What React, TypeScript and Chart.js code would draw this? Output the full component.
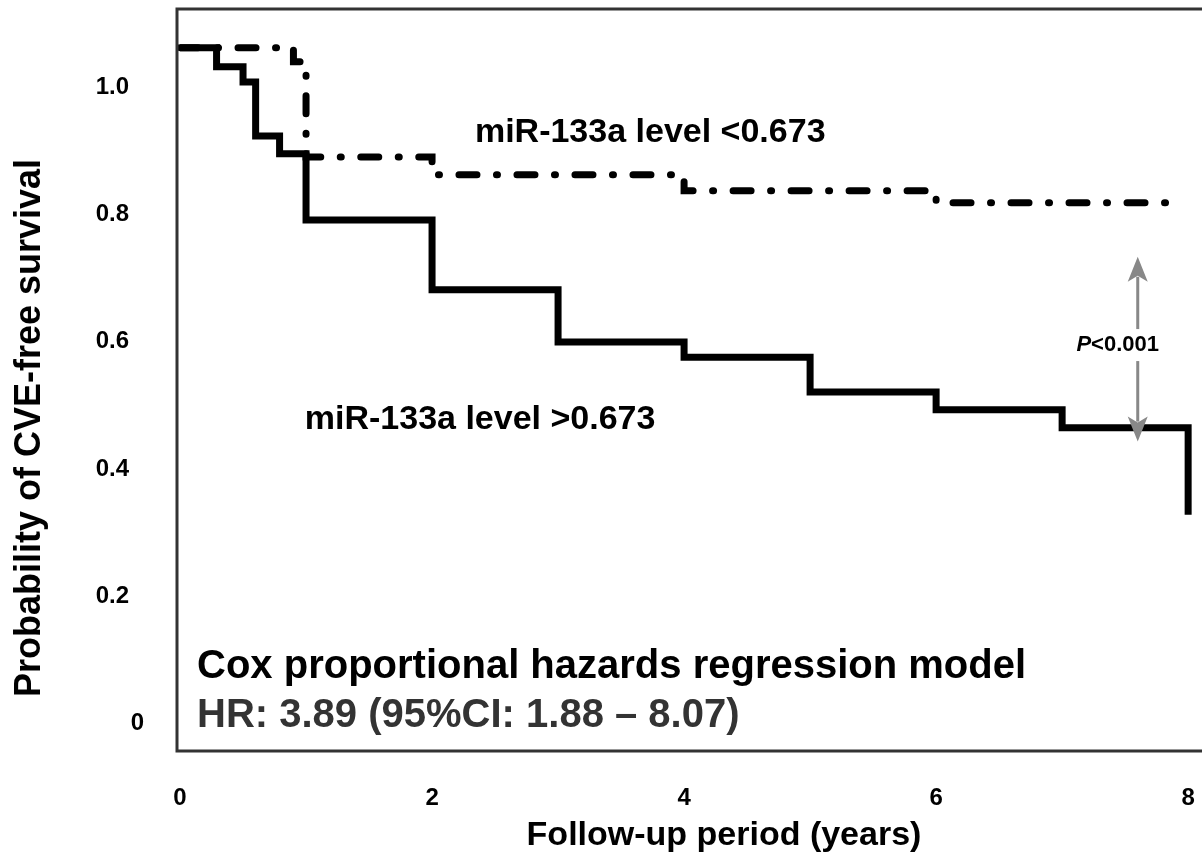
import React, { useEffect, useRef } from "react";
import { Chart, registerables } from "chart.js";

Chart.register(...registerables);

// ---- data ----
const xTicks = [0, 2, 4, 6, 8];
const yTicks = [0, 0.2, 0.4, 0.6, 0.8, 1.0];

// miR-133a level >0.673 (solid line)
const highTimes = [0, 0.29, 0.5, 0.6, 0.79, 1.0, 2.0, 3.0, 4.0, 5.0, 6.0, 7.0, 8.0];
const highSurvival = [1.0, 0.97, 0.946, 0.861, 0.833, 0.729, 0.619, 0.537, 0.513, 0.458, 0.43, 0.402, 0.265];

// miR-133a level <0.673 (dash-dot line)
const lowTimes = [0, 0.9, 1.0, 2.0, 4.0, 6.0, 7.92];
const lowSurvival = [1.0, 0.978, 0.828, 0.8, 0.775, 0.756, 0.756];

const lowLabel = "miR-133a level <0.673";
const highLabel = "miR-133a level >0.673";
const coxLine1 = "Cox proportional hazards regression model";
const coxLine2 = "HR: 3.89 (95%CI: 1.88 \u2013 8.07)";
const pLabelItalic = "P";
const pLabelRest = "<0.001";
const xTitle = "Follow-up period (years)";
const yTitle = "Probability of CVE-free survival";

// annotation anchors in data units
const lowLabelAt = { x: 2.34, y: 0.866 };
const highLabelAt = { x: 0.99, y: 0.414 };
const coxAt = { x: 0.135, y1: 0.025, y2: -0.052 };
const pArrow = { x: 7.6, top: 0.671, bottom: 0.38, text: 0.532 };

const FONT = '"Liberation Sans", Arial, Helvetica, sans-serif';
const Y_LABEL_SHIFT = 40;

const decorPlugin = {
  id: "decor",
  afterDraw(chart: any) {
    const { ctx, chartArea: a, scales } = chart;
    const xs = scales.x;
    const ys = scales.y;
    ctx.save();

    // frame (left, top, bottom)
    ctx.strokeStyle = "#333333";
    ctx.lineWidth = 3;
    ctx.lineCap = "butt";
    ctx.lineJoin = "miter";
    ctx.beginPath();
    ctx.moveTo(a.right + 10, a.top);
    ctx.lineTo(a.left, a.top);
    ctx.lineTo(a.left, a.bottom);
    ctx.lineTo(a.right + 10, a.bottom);
    ctx.stroke();

    // y tick "0" (sits slightly right of the other tick labels in the original)
    ctx.fillStyle = "#000";
    ctx.font = `bold 24px ${FONT}`;
    ctx.textAlign = "right";
    ctx.textBaseline = "middle";
    ctx.fillText("0", a.left - 33, ys.getPixelForValue(0) + Y_LABEL_SHIFT);

    // curve labels
    ctx.textAlign = "left";
    ctx.font = `bold 34px ${FONT}`;
    ctx.fillText(lowLabel, xs.getPixelForValue(lowLabelAt.x), ys.getPixelForValue(lowLabelAt.y));
    ctx.fillText(highLabel, xs.getPixelForValue(highLabelAt.x), ys.getPixelForValue(highLabelAt.y));

    // Cox model text
    ctx.font = `bold 40px ${FONT}`;
    ctx.fillStyle = "#000";
    ctx.fillText(coxLine1, xs.getPixelForValue(coxAt.x), ys.getPixelForValue(coxAt.y1));
    ctx.fillStyle = "#333333";
    ctx.fillText(coxLine2, xs.getPixelForValue(coxAt.x), ys.getPixelForValue(coxAt.y2));

    // P arrow
    const ax = xs.getPixelForValue(pArrow.x);
    const ay1 = ys.getPixelForValue(pArrow.top);
    const ay2 = ys.getPixelForValue(pArrow.bottom);
    const aty = ys.getPixelForValue(pArrow.text);
    ctx.strokeStyle = "#888888";
    ctx.fillStyle = "#888888";
    ctx.lineWidth = 3;
    ctx.beginPath();
    ctx.moveTo(ax, ay1 + 20);
    ctx.lineTo(ax, ay2 - 20);
    ctx.stroke();
    const hw = 10, hl = 25;
    ctx.beginPath();
    ctx.moveTo(ax, ay1);
    ctx.lineTo(ax - hw, ay1 + hl);
    ctx.lineTo(ax, ay1 + hl - 6);
    ctx.lineTo(ax + hw, ay1 + hl);
    ctx.closePath();
    ctx.fill();
    ctx.beginPath();
    ctx.moveTo(ax, ay2);
    ctx.lineTo(ax - hw, ay2 - hl);
    ctx.lineTo(ax, ay2 - hl + 6);
    ctx.lineTo(ax + hw, ay2 - hl);
    ctx.closePath();
    ctx.fill();

    // P text
    ctx.font = `italic bold 22px ${FONT}`;
    const wP = ctx.measureText(pLabelItalic).width;
    ctx.font = `bold 22px ${FONT}`;
    const wR = ctx.measureText(pLabelRest).width;
    const tx = ax - 20 - (wP + wR) / 2;
    ctx.fillStyle = "#ffffff";
    ctx.fillRect(ax - 6, aty - 16, 12, 32);
    ctx.fillStyle = "#000";
    ctx.font = `italic bold 22px ${FONT}`;
    ctx.fillText(pLabelItalic, tx, aty);
    ctx.font = `bold 22px ${FONT}`;
    ctx.fillText(pLabelRest, tx + wP, aty);

    // axis titles
    ctx.textAlign = "center";
    ctx.fillStyle = "#000";
    ctx.font = `bold 34px ${FONT}`;
    ctx.fillText(xTitle, 724, 836);
    ctx.font = `bold 36px ${FONT}`;
    ctx.translate(30, 428);
    ctx.rotate(-Math.PI / 2);
    ctx.fillText(yTitle, 0, 0);

    ctx.restore();
  },
};

export default function App() {
  const ref = useRef<HTMLCanvasElement | null>(null);

  useEffect(() => {
    if (!ref.current) return;
    const chart = new Chart(ref.current, {
      type: "line",
      data: {
        datasets: [
          {
            label: lowLabel,
            data: lowTimes.map((t, i) => ({ x: t, y: lowSurvival[i] })),
            borderColor: "#000",
            borderWidth: 7,
            borderDash: [18, 19.5, 1, 19.5],
            borderCapStyle: "round",
            stepped: true,
            pointRadius: 0,
            fill: false,
          },
          {
            label: highLabel,
            data: highTimes.map((t, i) => ({ x: t, y: highSurvival[i] })),
            borderColor: "#000",
            borderWidth: 7,
            borderCapStyle: "butt",
            borderJoinStyle: "miter",
            stepped: true,
            pointRadius: 0,
            fill: false,
          },
        ],
      },
      options: {
        animation: false,
        responsive: false,
        layout: { padding: { top: 9, right: 0, left: 0, bottom: 0 } },
        plugins: { legend: { display: false }, tooltip: { enabled: false } },
        scales: {
          x: {
            type: "linear",
            min: -0.024,
            max: 8.11,
            grid: { display: false, drawTicks: false },
            border: { display: false },
            afterBuildTicks: (s: any) => {
              s.ticks = xTicks.map((v) => ({ value: v }));
            },
            afterFit: (s: any) => {
              s.height = 114;
              s.paddingLeft = 0;
              s.paddingRight = 0;
              s.paddingTop = 0;
              s.paddingBottom = 0;
            },
            ticks: {
              padding: 33,
              color: "#000",
              font: { family: FONT, size: 24, weight: "bold" },
              callback: (v: any) => String(v),
              maxRotation: 0,
            },
          },
          y: {
            type: "linear",
            min: -0.107,
            max: 1.061,
            grid: { display: false, drawTicks: false },
            border: { display: false },
            afterBuildTicks: (s: any) => {
              s.ticks = yTicks.map((v) => ({ value: v }));
            },
            afterFit: (s: any) => {
              s.width = 177;
              s.paddingLeft = 0;
              s.paddingRight = 0;
              s.paddingTop = 0;
              s.paddingBottom = 0;
            },
            ticks: {
              padding: 48,
              labelOffset: Y_LABEL_SHIFT,
              color: "#000",
              font: { family: FONT, size: 24, weight: "bold" },
              callback: (v: any) => (Number(v) === 0 ? "" : Number(v).toFixed(1)),
            },
          },
        },
      },
      plugins: [decorPlugin],
    });
    return () => chart.destroy();
  }, []);

  return (
    <div style={{ position: "absolute", left: 0, top: 0, width: 1202, height: 865, background: "#fff", overflow: "hidden" }}>
      <canvas ref={ref} width={1202} height={865} style={{ display: "block" }} />
    </div>
  );
}
